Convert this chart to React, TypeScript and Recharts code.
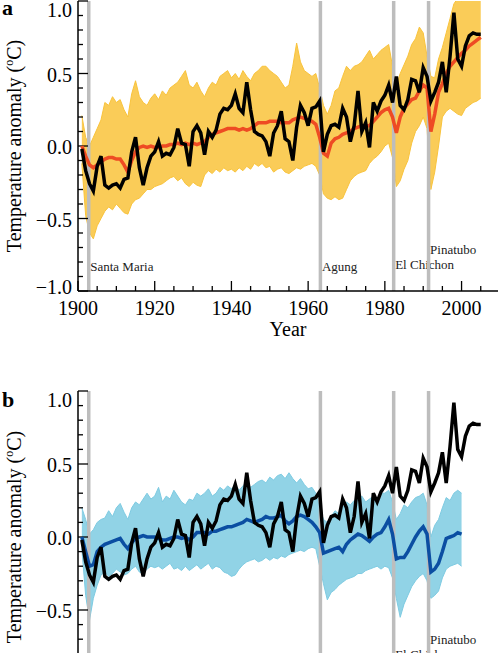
import React from 'react';
import { ComposedChart, Area, Line, XAxis, YAxis, ReferenceLine } from 'recharts';

// observed global mean anomaly (black), 1901-2005
const firstYear = 1901;
const obsAnom = [
  -0.02, -0.17, -0.26, -0.31, -0.14, -0.07, -0.27, -0.29, -0.27, -0.26,
  -0.29, -0.23, -0.22, -0.04, 0.06, -0.15, -0.27, -0.15, -0.07, -0.04,
  0.03, -0.07, -0.05, -0.06, -0.01, 0.12, 0.02, 0.01, -0.14, 0.10,
  0.14, 0.09, -0.06, 0.10, 0.06, 0.11, 0.22, 0.26, 0.25, 0.28,
  0.36, 0.26, 0.23, 0.44, 0.25, 0.10, 0.08, 0.07, 0.03, -0.07,
  0.09, 0.14, 0.24, 0.05, 0.03, -0.10, 0.13, 0.28, 0.23, 0.14,
  0.26, 0.27, 0.31, -0.04, 0.08, 0.14, 0.15, 0.13, 0.26, 0.20,
  0.03, 0.14, 0.38, 0.10, 0.16, -0.01, 0.30, 0.24, 0.31, 0.35,
  0.42, 0.30, 0.48, 0.28, 0.25, 0.32, 0.46, 0.45, 0.37, 0.54,
  0.48, 0.31, 0.37, 0.44, 0.58, 0.37, 0.62, 0.92, 0.60, 0.55,
  0.69, 0.76, 0.78, 0.77, 0.77,
];

// panel a: all-forcing multi-model mean (red) and ensemble spread (yellow)
const allForcingMean = [
  0.00, -0.07, -0.13, -0.15, -0.13, -0.11, -0.09, -0.08, -0.08, -0.09,
  -0.09, -0.13, -0.18, -0.10, -0.04, -0.01, 0.00, -0.01, 0.00, -0.01,
  -0.01, 0.00, 0.00, 0.01, 0.01, 0.02, 0.01, 0.02, 0.01, 0.02,
  0.01, 0.02, 0.03, 0.06, 0.08, 0.09, 0.10, 0.11, 0.12, 0.12,
  0.12, 0.11, 0.12, 0.11, 0.12, 0.14, 0.16, 0.16, 0.16, 0.17,
  0.17, 0.17, 0.16, 0.16, 0.16, 0.18, 0.19, 0.20, 0.19, 0.18,
  0.17, 0.15, 0.06, -0.05, -0.07, 0.02, 0.05, 0.06, 0.08, 0.09,
  0.10, 0.12, 0.13, 0.14, 0.14, 0.14, 0.17, 0.20, 0.23, 0.25,
  0.26, 0.20, 0.09, 0.20, 0.26, 0.29, 0.32, 0.33, 0.38, 0.42,
  0.40, 0.10, 0.22, 0.37, 0.43, 0.50, 0.55, 0.58, 0.61, 0.64,
  0.66, 0.69, 0.71, 0.73, 0.75,
];
const allForcingHi = [
  0.21, 0.06, 0.00, 0.06, 0.12, 0.18, 0.30, 0.28, 0.34, 0.30,
  0.32, 0.25, 0.20, 0.36, 0.45, 0.34, 0.30, 0.28, 0.33, 0.36,
  0.32, 0.38, 0.35, 0.40, 0.42, 0.44, 0.48, 0.52, 0.42, 0.40,
  0.44, 0.38, 0.34, 0.40, 0.44, 0.42, 0.48, 0.50, 0.52, 0.47,
  0.50, 0.46, 0.52, 0.48, 0.45, 0.50, 0.52, 0.55, 0.55, 0.52,
  0.50, 0.48, 0.44, 0.40, 0.42, 0.55, 0.71, 0.58, 0.52, 0.50,
  0.48, 0.50, 0.40, 0.28, 0.22, 0.28, 0.38, 0.40, 0.48, 0.55,
  0.52, 0.55, 0.56, 0.58, 0.62, 0.66, 0.60, 0.63, 0.66, 0.68,
  0.70, 0.55, 0.42, 0.50, 0.56, 0.62, 0.70, 0.74, 0.82, 0.78,
  0.62, 0.48, 0.47, 0.60, 0.68, 0.78, 0.88, 0.98, 1.02, 1.00,
  1.04, 1.02, 1.05, 1.03, 1.00,
];
const allForcingLo = [
  -0.12, -0.48, -0.60, -0.64, -0.55, -0.50, -0.45, -0.42, -0.44, -0.40,
  -0.43, -0.46, -0.47, -0.40, -0.37, -0.36, -0.33, -0.30, -0.30, -0.28,
  -0.27, -0.26, -0.24, -0.22, -0.21, -0.24, -0.22, -0.26, -0.28, -0.25,
  -0.27, -0.28, -0.20, -0.17, -0.19, -0.16, -0.18, -0.15, -0.17, -0.16,
  -0.18, -0.15, -0.17, -0.14, -0.16, -0.12, -0.14, -0.12, -0.15, -0.14,
  -0.18, -0.16, -0.15, -0.18, -0.19, -0.17, -0.15, -0.16, -0.14, -0.13,
  -0.12, -0.14, -0.20, -0.33, -0.36, -0.37, -0.35, -0.37, -0.36, -0.30,
  -0.24, -0.21, -0.19, -0.18, -0.17, -0.12, -0.09, -0.07, -0.04, 0.00,
  0.02, -0.08, -0.28, -0.24, -0.16, -0.10, 0.02, 0.10, 0.14, 0.20,
  0.12, -0.30, -0.18, 0.00, 0.20, 0.24, 0.26, 0.24, 0.22, 0.21,
  0.26, 0.28, 0.30, 0.31, 0.33,
];

// panel b: natural-forcing mean (blue) and ensemble spread (light blue), 1901-2000
const naturalMean = [
  0.00, -0.10, -0.20, -0.19, -0.10, -0.07, -0.05, -0.04, -0.03, -0.02,
  -0.01, -0.05, -0.08, -0.04, -0.01, 0.00, 0.01, 0.00, 0.00, 0.00,
  -0.01, -0.02, -0.02, -0.01, 0.00, 0.00, -0.01, 0.00, -0.02, 0.00,
  0.03, 0.03, 0.03, 0.02, 0.04, 0.04, 0.05, 0.06, 0.07, 0.07,
  0.08, 0.09, 0.10, 0.12, 0.11, 0.10, 0.11, 0.12, 0.14, 0.13,
  0.13, 0.14, 0.15, 0.11, 0.09, 0.11, 0.14, 0.15, 0.14, 0.12,
  0.10, 0.07, 0.03, -0.11, -0.10, -0.09, -0.08, -0.07, -0.10, -0.05,
  -0.02, 0.00, 0.02, 0.01, -0.01, -0.03, 0.00, 0.02, 0.03, 0.07,
  0.12, 0.02, -0.15, -0.14, -0.14, -0.10, -0.05, 0.00, 0.04, 0.07,
  0.02, -0.24, -0.22, -0.18, -0.10, -0.01, 0.00, 0.01, 0.03, 0.02,
];
const naturalHi = [
  0.20, 0.12, 0.02, 0.05, 0.10, 0.12, 0.13, 0.18, 0.14, 0.20,
  0.23, 0.17, 0.12, 0.20, 0.24, 0.22, 0.26, 0.30, 0.26, 0.28,
  0.34, 0.24, 0.28, 0.26, 0.32, 0.28, 0.24, 0.22, 0.26, 0.25,
  0.30, 0.28, 0.30, 0.33, 0.28, 0.30, 0.34, 0.32, 0.35, 0.33,
  0.36, 0.32, 0.35, 0.38, 0.34, 0.36, 0.38, 0.39, 0.37, 0.41,
  0.39, 0.42, 0.43, 0.40, 0.44, 0.40, 0.37, 0.40, 0.36, 0.33,
  0.34, 0.30, 0.20, 0.12, 0.10, 0.14, 0.18, 0.16, 0.20, 0.24,
  0.22, 0.25, 0.27, 0.28, 0.24, 0.26, 0.28, 0.26, 0.30, 0.30,
  0.32, 0.24, 0.12, 0.16, 0.22, 0.20, 0.24, 0.27, 0.28, 0.30,
  0.22, 0.00, 0.08, 0.12, 0.20, 0.27, 0.25, 0.30, 0.32, 0.30,
];
const naturalLo = [
  -0.08, -0.40, -0.57, -0.42, -0.33, -0.26, -0.24, -0.27, -0.25, -0.22,
  -0.24, -0.26, -0.25, -0.22, -0.20, -0.24, -0.25, -0.22, -0.20, -0.21,
  -0.20, -0.22, -0.20, -0.18, -0.22, -0.21, -0.23, -0.20, -0.23, -0.21,
  -0.19, -0.22, -0.20, -0.18, -0.22, -0.20, -0.21, -0.24, -0.25, -0.27,
  -0.26, -0.22, -0.19, -0.17, -0.16, -0.15, -0.17, -0.16, -0.14, -0.16,
  -0.14, -0.15, -0.13, -0.14, -0.12, -0.11, -0.10, -0.09, -0.10, -0.08,
  -0.07, -0.08, -0.20, -0.32, -0.43, -0.38, -0.36, -0.33, -0.31, -0.29,
  -0.28, -0.27, -0.25, -0.25, -0.23, -0.22, -0.21, -0.20, -0.22, -0.20,
  -0.21, -0.28, -0.42, -0.55, -0.46, -0.40, -0.34, -0.30, -0.27, -0.25,
  -0.30, -0.42, -0.40, -0.37, -0.28, -0.22, -0.20, -0.19, -0.18, -0.20,
];

const yearTicks = [
  1900, 1905, 1910, 1915, 1920, 1925, 1930, 1935, 1940, 1945, 1950,
  1955, 1960, 1965, 1970, 1975, 1980, 1985, 1990, 1995, 2000, 2005,
];
const tempTicks = [
  -1.0, -0.9, -0.8, -0.7, -0.6, -0.5, -0.4, -0.3, -0.2, -0.1, 0.0,
  0.1, 0.2, 0.3, 0.4, 0.5, 0.6, 0.7, 0.8, 0.9, 1.0,
];
const volcanoNames = ['Santa Maria', 'Agung', 'El Chichon', 'Pinatubo'];
const volcanoYears = [1902.8, 1963.2, 1982.3, 1991.4];

const years = obsAnom.map((_, i) => firstYear + i);
const rowsA = years.map((year, i) => ({
  year,
  obs: obsAnom[i],
  mean: allForcingMean[i],
  band: [allForcingLo[i], allForcingHi[i]],
}));
const rowsB = years.map((year, i) => ({
  year,
  obs: obsAnom[i],
  mean: i < naturalMean.length ? naturalMean[i] : null,
  band: i < naturalHi.length ? [naturalLo[i], naturalHi[i]] : null,
}));

const FONT = '"Liberation Serif", "Times New Roman", Times, serif';
// label baseline offsets below the plot top
const labelDy = [270, 270, 268, 253];
const MARGIN = { top: 1, right: 2, bottom: 24, left: 8 };
const X_DOMAIN: [number, number] = [1900, 2009.5];
const Y_DOMAIN: [number, number] = [-1, 1];

const fmtTemp = (v: number) => (v < -0.001 ? '\u2212' : '') + Math.abs(v).toFixed(1);
const isMajor = (v: number) => Math.abs(v * 2 - Math.round(v * 2)) < 1e-6;

const LeftTick = (props: any) => {
  const { x, y, payload } = props;
  const v = payload.value;
  const major = isMajor(v);
  let dy = 1;
  if (v > 0.99) dy = 9;
  if (v < -0.99) dy = -4;
  return (
    <g>
      <line x1={x} x2={x + (major ? 10 : 5)} y1={y} y2={y} stroke="#000" strokeWidth={1.3} />
      {major && (
        <text x={x - 6} y={y + dy} textAnchor="end" dominantBaseline="central" fontSize={20} fontFamily={FONT} fill="#000">
          {fmtTemp(v)}
        </text>
      )}
    </g>
  );
};

const RightTick = (props: any) => {
  const { x, y, payload } = props;
  const major = isMajor(payload.value);
  return <line x1={x} x2={x - (major ? 10 : 5)} y1={y} y2={y} stroke="#000" strokeWidth={1.3} />;
};

const BottomTick = (props: any) => {
  const { x, y, payload } = props;
  const major = payload.value % 20 === 0;
  return (
    <g>
      <line x1={x} x2={x} y1={y} y2={y - (major ? 10 : 5)} stroke="#000" strokeWidth={1.3} />
      {major && (
        <text x={x} y={y + 17} textAnchor="middle" dominantBaseline="central" fontSize={20} fontFamily={FONT} fill="#000">
          {payload.value}
        </text>
      )}
    </g>
  );
};

const TopTick = (props: any) => {
  const { x, y, payload } = props;
  const major = payload.value % 20 === 0;
  return <line x1={x} x2={x} y1={y} y2={y + (major ? 10 : 5)} stroke="#000" strokeWidth={1.3} />;
};

const volcanoLabel = (name: string, dy: number) => (p: any) => {
  const vb = p.viewBox || {};
  return (
    <text x={(vb.x ?? 0) + 1.5} y={(vb.y ?? 0) + dy} fontSize={13} fontFamily={FONT} fill="#222">
      {name}
    </text>
  );
};

// hidden axes used by the overlay chart so its scales match the frame below
const hiddenAxes = [
  <XAxis key="hx" dataKey="year" type="number" domain={X_DOMAIN} allowDataOverflow height={30} axisLine={false} tickLine={false} tick={false} />,
  <YAxis key="hy" type="number" domain={Y_DOMAIN} allowDataOverflow width={70} axisLine={false} tickLine={false} tick={false} />,
];

interface PanelProps {
  rows: any[];
  top: number;
  height: number;
  bandColor: string;
  meanColor: string;
}

const Panel: React.FC<PanelProps> = ({ rows, top, height, bandColor, meanColor }) => (
  <>
    <div style={{ position: 'absolute', left: 0, top }}>
      <ComposedChart width={500} height={height} data={rows} margin={MARGIN}>
        <XAxis
          dataKey="year"
          type="number"
          domain={X_DOMAIN}
          allowDataOverflow
          ticks={yearTicks}
          interval={0}
          tickSize={0}
          tickMargin={0}
          tickLine={false}
          height={30}
          axisLine={{ stroke: '#000', strokeWidth: 1.5 }}
          tick={<BottomTick />}
        />
        <XAxis
          xAxisId="top"
          orientation="top"
          dataKey="year"
          type="number"
          domain={X_DOMAIN}
          allowDataOverflow
          ticks={yearTicks}
          interval={0}
          tickSize={0}
          tickMargin={0}
          tickLine={false}
          height={0}
          axisLine={{ stroke: '#000', strokeWidth: 1.5 }}
          tick={<TopTick />}
        />
        <YAxis
          type="number"
          domain={Y_DOMAIN}
          allowDataOverflow
          ticks={tempTicks}
          interval={0}
          tickSize={0}
          tickMargin={0}
          tickLine={false}
          width={70}
          axisLine={{ stroke: '#000', strokeWidth: 1.5 }}
          tick={<LeftTick />}
        />
        <YAxis
          yAxisId="right"
          orientation="right"
          type="number"
          domain={Y_DOMAIN}
          allowDataOverflow
          ticks={tempTicks}
          interval={0}
          tickSize={0}
          tickMargin={0}
          tickLine={false}
          width={0}
          axisLine={{ stroke: '#000', strokeWidth: 1.5 }}
          tick={<RightTick />}
        />
        <Area
          dataKey="band"
          stroke={bandColor}
          strokeWidth={1}
          fill={bandColor}
          fillOpacity={0.85}
          isAnimationActive={false}
          connectNulls={false}
        />
        {volcanoYears.map((yr, i) => (
          <ReferenceLine
            key={volcanoNames[i]}
            x={yr}
            stroke="#BDBDBD"
            strokeWidth={3.5}
            label={volcanoLabel(volcanoNames[i], labelDy[i])}
          />
        ))}
      </ComposedChart>
    </div>
    {/* mean and observed lines drawn above the volcano markers */}
    <div style={{ position: 'absolute', left: 0, top }}>
      <ComposedChart width={500} height={height} data={rows} margin={MARGIN}>
        {hiddenAxes}
        <Line dataKey="mean" stroke={meanColor} strokeWidth={3.5} dot={false} activeDot={false} isAnimationActive={false} />
        <Line dataKey="obs" stroke="#000" strokeWidth={3.5} dot={false} activeDot={false} isAnimationActive={false} />
      </ComposedChart>
    </div>
  </>
);

const yTitleStyle = (cy: number): React.CSSProperties => ({
  position: 'absolute',
  left: 14 - 150,
  top: cy - 12,
  width: 300,
  height: 24,
  lineHeight: '24px',
  textAlign: 'center',
  transform: 'rotate(-90deg)',
  fontFamily: FONT,
  fontSize: 20,
  color: '#000',
  whiteSpace: 'nowrap',
});

const YTitle = ({ cy }: { cy: number }) => (
  <div style={yTitleStyle(cy)}>
    Temperature anomaly (<sup style={{ fontSize: 12, lineHeight: 0 }}>o</sup>C)
  </div>
);

const letterStyle = (top: number): React.CSSProperties => ({
  position: 'absolute',
  left: 2,
  top,
  fontFamily: FONT,
  fontWeight: 'bold',
  fontSize: 22,
  lineHeight: '22px',
  color: '#000',
});

export default function App() {
  return (
    <div style={{ position: 'absolute', left: 0, top: 0, width: 500, height: 653, overflow: 'hidden', background: '#fff' }}>
      <Panel rows={rowsA} top={0} height={345} bandColor="#F9C33B" meanColor="#EE4B23" />
      <Panel rows={rowsB} top={390} height={347} bandColor="#7ECBE2" meanColor="#0B4EA2" />
      <YTitle cy={146} />
      <YTitle cy={537} />
      <div style={letterStyle(-3)}>a</div>
      <div style={letterStyle(389)}>b</div>
      <div
        style={{
          position: 'absolute',
          left: 238,
          top: 317,
          width: 100,
          textAlign: 'center',
          fontFamily: FONT,
          fontSize: 20,
          lineHeight: '24px',
          color: '#000',
        }}
      >
        Year
      </div>
    </div>
  );
}
